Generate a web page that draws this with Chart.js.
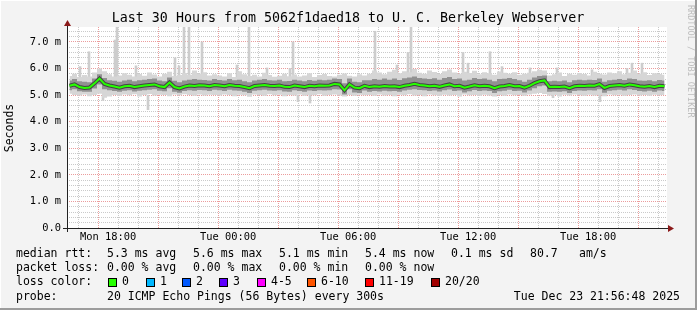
<!DOCTYPE html>
<html lang="en">
<head>
<meta charset="UTF-8">
<title>Last 30 Hours from 5062f1daed18 to U. C. Berkeley Webserver</title>
<style>
  html, body { margin: 0; padding: 0; background: #f3f3f3; }
  #wrap { width: 697px; height: 310px; }
</style>
</head>
<body>
<div id="wrap"><canvas id="grafico" width="697" height="310"></canvas></div>

<script src="https://cdn.jsdelivr.net/npm/chart.js"></script>
<script>
// one value every 15 minutes, first column starts Mon 15:56:48
const stepHours = 0.25;

const medianRtt = [
  5.35, 5.40, 5.30, 5.27, 5.28, 5.44, 5.62, 5.42, 5.36, 5.32, 5.28, 5.33, 5.35, 5.30, 5.33,
  5.36, 5.38, 5.40, 5.33, 5.30, 5.47, 5.30, 5.25, 5.32, 5.36, 5.34, 5.37, 5.36, 5.33, 5.38,
  5.36, 5.33, 5.38, 5.35, 5.34, 5.30, 5.26, 5.34, 5.36, 5.38, 5.35, 5.34, 5.36, 5.31, 5.30,
  5.36, 5.33, 5.30, 5.35, 5.33, 5.36, 5.35, 5.36, 5.42, 5.40, 5.18, 5.40, 5.28, 5.26, 5.35,
  5.30, 5.33, 5.31, 5.34, 5.32, 5.33, 5.30, 5.35, 5.38, 5.42, 5.38, 5.36, 5.33, 5.35, 5.31,
  5.36, 5.40, 5.33, 5.35, 5.28, 5.32, 5.37, 5.33, 5.35, 5.33, 5.26, 5.32, 5.34, 5.38, 5.33,
  5.34, 5.28, 5.35, 5.45, 5.52, 5.55, 5.30, 5.31, 5.30, 5.32, 5.26, 5.33, 5.35, 5.34, 5.36,
  5.35, 5.41, 5.27, 5.34, 5.36, 5.38, 5.35, 5.40, 5.37, 5.33, 5.31, 5.34, 5.30, 5.35, 5.33
];

// darker smoke (middle pings)
const midHigh = [
  5.55, 5.60, 5.52, 5.50, 5.48, 5.62, 5.78, 5.64, 5.56, 5.54, 5.50, 5.55, 5.58, 5.52, 5.56,
  5.58, 5.60, 5.62, 5.55, 5.52, 5.66, 5.54, 5.48, 5.55, 5.58, 5.60, 5.58, 5.57, 5.55, 5.60,
  5.57, 5.55, 5.60, 5.56, 5.58, 5.52, 5.48, 5.55, 5.58, 5.60, 5.56, 5.55, 5.58, 5.52, 5.53,
  5.58, 5.55, 5.52, 5.57, 5.54, 5.58, 5.56, 5.58, 5.62, 5.60, 5.44, 5.62, 5.50, 5.48, 5.56,
  5.56, 5.60, 5.58, 5.62, 5.58, 5.62, 5.57, 5.63, 5.66, 5.70, 5.64, 5.62, 5.60, 5.63, 5.58,
  5.64, 5.68, 5.60, 5.62, 5.55, 5.58, 5.64, 5.60, 5.62, 5.58, 5.52, 5.60, 5.61, 5.64, 5.60,
  5.56, 5.50, 5.58, 5.66, 5.72, 5.74, 5.52, 5.54, 5.52, 5.55, 5.48, 5.56, 5.58, 5.56, 5.58,
  5.57, 5.62, 5.50, 5.56, 5.58, 5.60, 5.57, 5.62, 5.60, 5.55, 5.54, 5.56, 5.52, 5.57, 5.55
];
const midLow = [
  5.18, 5.22, 5.14, 5.12, 5.12, 5.25, 5.40, 5.22, 5.18, 5.15, 5.12, 5.16, 5.18, 5.13, 5.16,
  5.18, 5.20, 5.22, 5.16, 5.14, 5.26, 5.12, 5.09, 5.15, 5.18, 5.16, 5.19, 5.18, 5.15, 5.20,
  5.18, 5.15, 5.20, 5.17, 5.16, 5.12, 5.08, 5.16, 5.18, 5.20, 5.17, 5.16, 5.18, 5.13, 5.12,
  5.18, 5.15, 5.12, 5.17, 5.15, 5.18, 5.17, 5.18, 5.22, 5.21, 5.02, 5.22, 5.10, 5.08, 5.17,
  5.12, 5.15, 5.13, 5.16, 5.14, 5.15, 5.12, 5.17, 5.20, 5.22, 5.19, 5.18, 5.15, 5.17, 5.13,
  5.18, 5.21, 5.15, 5.17, 5.10, 5.14, 5.19, 5.15, 5.17, 5.15, 5.08, 5.14, 5.16, 5.20, 5.15,
  5.16, 5.10, 5.17, 5.26, 5.33, 5.36, 5.12, 5.13, 5.12, 5.14, 5.08, 5.15, 5.17, 5.16, 5.18,
  5.17, 5.22, 5.09, 5.16, 5.18, 5.20, 5.17, 5.22, 5.19, 5.15, 5.13, 5.16, 5.12, 5.17, 5.15
];

// light smoke (outer pings)
const outerHigh = [
  5.72, 5.80, 5.68, 5.75, 5.70, 5.85, 6.00, 5.90, 5.78, 5.70, 5.74, 5.82, 5.76, 5.70, 5.79,
  5.73, 5.85, 5.77, 5.70, 5.80, 5.88, 5.72, 5.75, 5.83, 5.76, 5.92, 5.80, 5.86, 5.74, 5.78,
  5.74, 5.70, 5.82, 5.68, 5.90, 5.78, 5.72, 5.76, 5.70, 5.84, 5.75, 5.69, 5.73, 5.80, 5.71,
  5.77, 5.70, 5.74, 5.82, 5.68, 5.75, 5.79, 5.72, 5.70, 5.76, 5.81, 5.73, 5.70, 5.78, 5.74,
  5.80, 5.92, 5.85, 5.78, 5.88, 5.95, 5.82, 5.90, 5.86, 5.98, 5.84, 5.80, 5.92, 5.87, 5.79,
  5.90, 5.96, 5.85, 5.80, 5.88, 5.83, 5.91, 5.78, 5.86, 5.82, 5.76, 5.89, 5.84, 5.80, 5.86,
  5.76, 5.80, 5.84, 5.90, 5.95, 5.92, 5.74, 5.78, 5.85, 5.72, 5.80, 5.76, 5.83, 5.79, 5.74,
  5.88, 5.80, 5.77, 5.85, 5.82, 5.90, 5.78, 5.84, 5.92, 5.80, 5.86, 5.75, 5.82, 5.79, 5.76
];
const outerLow = [
  5.05, 5.00, 4.98, 5.02, 4.96, 5.00, 5.05, 4.90, 4.95, 5.00, 4.97, 5.02, 4.99, 5.03, 4.95,
  5.00, 5.04, 4.98, 5.01, 5.00, 4.96, 5.02, 4.99, 5.03, 5.00, 4.97, 5.02, 4.98, 5.01, 5.00,
  4.98, 5.02, 5.00, 4.96, 5.01, 4.99, 4.94, 5.02, 5.00, 4.97, 5.03, 4.99, 5.01, 4.96, 5.00,
  4.98, 5.02, 4.97, 5.00, 4.99, 5.03, 4.97, 5.00, 5.02, 4.98, 4.95, 5.00, 4.97, 5.01, 4.99,
  5.00, 4.97, 5.02, 4.98, 5.00, 4.96, 5.01, 4.99, 5.03, 4.98, 5.00, 4.96, 5.02, 4.99, 4.97,
  5.01, 4.98, 5.00, 4.95, 5.02, 4.99, 5.00, 4.97, 5.01, 4.98, 4.95, 5.00, 4.97, 5.02, 4.99,
  5.00, 4.97, 5.02, 5.05, 5.08, 5.04, 4.98, 5.00, 4.95, 5.01, 4.98, 5.02, 4.99, 4.97, 5.01,
  4.98, 5.00, 4.96, 5.02, 4.99, 5.01, 4.97, 5.00, 5.02, 4.98, 5.00, 4.97, 5.01, 4.99, 5.00
];

// single slow / fast pings: [hours since start, ms]
const spikes = [
  [0.65, 6.07], [1.10, 6.63], [2.40, 7.07], [2.50, 7.60], [3.45, 6.10], [5.40, 6.40],
  [5.60, 6.10], [5.85, 7.60], [6.10, 7.60], [6.75, 7.00], [8.50, 6.13], [9.10, 7.60],
  [10.00, 6.02], [11.15, 6.00], [11.30, 7.00], [15.40, 7.40], [16.50, 6.13], [17.05, 6.60],
  [17.20, 7.60], [19.80, 6.60], [20.05, 6.20], [21.15, 6.63], [21.75, 6.07], [23.15, 6.02],
  [24.50, 6.02], [26.25, 5.95], [28.00, 6.00], [28.25, 6.20], [28.75, 6.20]
];
const dips = [
  [1.80, 4.80], [4.05, 4.45], [11.55, 4.75], [12.15, 4.70], [24.30, 4.90], [26.65, 4.75]
];

const yTicks = [];
for (let i = 0; i <= 37; i++) yTicks.push(i / 5);

// hourly grid, first full hour is 16:00 on Monday
const firstHour = 16;
const firstHourOffset = 3.2 / 60;
const timeLabels = ['Mon 18:00', 'Tue 00:00', 'Tue 06:00', 'Tue 12:00', 'Tue 18:00'];
const timeLabelTicks = [2, 8, 14, 20, 26];

const rttStats = ['5.3 ms avg', '5.6 ms max', '5.1 ms min', '5.4 ms now', '0.1 ms sd'];
const lossStats = ['0.00 % avg', '0.00 % max', '0.00 % min', '0.00 % now'];
const lossBins = ['0', '1', '2', '3', '4-5', '6-10', '11-19', '20/20'];
const lossColors = ['#26ff00', '#00b8ff', '#0059ff', '#5e00ff', '#ff00ff', '#ff5500', '#ff0000', '#a10000'];

const mono = '"DejaVu Sans Mono", monospace';

const hourTicks = [];
for (let k = 0; k < 30; k++) hourTicks.push(firstHourOffset + k);

const pts = arr => arr.map((v, i) => ({ x: stepHours * (i + 0.5), y: v }));

const marco = {
  id: 'marco',
  beforeDraw(chart) {
    const { ctx, chartArea: a } = chart;
    ctx.save();
    ctx.fillStyle = '#f3f3f3';
    ctx.fillRect(0, 0, 697, 310);
    ctx.fillStyle = '#ffffff';
    ctx.fillRect(0, 0, 697, 1);
    ctx.fillRect(0, 0, 1, 310);
    ctx.fillStyle = '#9c9c9c';
    ctx.fillRect(695, 0, 2, 310);
    ctx.fillRect(0, 308, 697, 2);
    ctx.fillStyle = '#ffffff';
    ctx.fillRect(a.left, a.top, a.right - a.left, a.bottom - a.top);
    ctx.restore();
  },
  afterDraw(chart) {
    const { ctx, chartArea: a } = chart;
    ctx.save();
    // axes with arrows
    ctx.strokeStyle = '#222';
    ctx.lineWidth = 1;
    ctx.beginPath();
    ctx.moveTo(63, a.bottom + 0.5);
    ctx.lineTo(a.right + 2, a.bottom + 0.5);
    ctx.moveTo(a.left + 0.5, a.bottom + 4);
    ctx.lineTo(a.left + 0.5, a.top - 2);
    ctx.stroke();
    ctx.fillStyle = '#8b1a1a';
    ctx.beginPath();
    ctx.moveTo(a.right + 1, a.bottom - 3);
    ctx.lineTo(a.right + 7, a.bottom + 0.5);
    ctx.lineTo(a.right + 1, a.bottom + 4);
    ctx.fill();
    ctx.beginPath();
    ctx.moveTo(a.left - 3, a.top - 1);
    ctx.lineTo(a.left + 0.5, a.top - 7);
    ctx.lineTo(a.left + 4, a.top - 1);
    ctx.fill();

    // title
    ctx.fillStyle = '#000';
    ctx.textBaseline = 'middle';
    ctx.textAlign = 'center';
    ctx.font = '13.3px ' + mono;
    ctx.fillText('Last 30 Hours from 5062f1daed18 to U. C. Berkeley Webserver', 348, 19);

    // vertical axis title
    ctx.save();
    ctx.translate(10, 128);
    ctx.rotate(-Math.PI / 2);
    ctx.font = '11.5px ' + mono;
    ctx.fillText('Seconds', 0, 0);
    ctx.restore();

    // rrdtool watermark
    ctx.save();
    ctx.translate(690, 5);
    ctx.rotate(Math.PI / 2);
    ctx.textAlign = 'left';
    ctx.fillStyle = '#bdbdbd';
    ctx.font = '8.5px ' + mono;
    ctx.fillText('RRDTOOL / TOBI OETIKER', 0, 0);
    ctx.restore();

    // legend
    ctx.textAlign = 'left';
    ctx.font = '11.5px ' + mono;
    const cols = [107, 193, 279, 365, 451];
    ctx.fillText('median rtt:', 16, 254);
    rttStats.forEach((s, i) => ctx.fillText(s, cols[i], 254));
    ctx.fillText('80.7', 530, 254);
    ctx.fillText('am/s', 579, 254);
    ctx.fillText('packet loss:', 16, 268);
    lossStats.forEach((s, i) => ctx.fillText(s, cols[i], 268));
    ctx.fillText('loss color:', 16, 282);
    const boxX = [108, 146, 182, 219, 257, 307, 365, 431];
    lossBins.forEach((b, i) => {
      ctx.fillStyle = lossColors[i];
      ctx.fillRect(boxX[i], 278, 8, 8);
      ctx.strokeStyle = '#000';
      ctx.strokeRect(boxX[i] + 0.5, 278.5, 8, 8);
      ctx.fillStyle = '#000';
      ctx.fillText(b, boxX[i] + 14, 282);
    });
    ctx.fillText('probe:', 16, 297);
    ctx.fillText('20 ICMP Echo Pings (56 Bytes) every 300s', 107, 297);
    ctx.textAlign = 'right';
    ctx.fillText('Tue Dec 23 21:56:48 2025', 680, 297);
    ctx.restore();
  }
};

const lienzo = document.getElementById('grafico');

new Chart(lienzo, {
  type: 'line',
  data: {
    datasets: [
      { data: pts(outerLow), borderWidth: 0, fill: false, stepped: 'middle', order: 5 },
      { data: pts(outerHigh), borderWidth: 0, fill: '-1', backgroundColor: 'rgb(214,214,214)', stepped: 'middle', order: 5 },
      { data: pts(midLow), borderWidth: 0, fill: false, stepped: 'middle', order: 3 },
      { data: pts(midHigh), borderWidth: 0, fill: '-1', backgroundColor: 'rgb(145,145,145)', stepped: 'middle', order: 3 },
      {
        type: 'bar',
        data: spikes.map(([t, top]) => ({ x: t, y: [5.6, top] }))
          .concat(dips.map(([t, low]) => ({ x: t, y: [low, 5.0] }))),
        backgroundColor: 'rgb(205,205,205)',
        barThickness: 2,
        grouped: false,
        order: 6
      },
      { data: pts(medianRtt), borderColor: 'rgba(35,35,35,0.7)', borderWidth: 4, fill: false, order: 1 },
      { data: pts(medianRtt), borderColor: '#26ff00', borderWidth: 2, fill: false, order: 0 }
    ]
  },
  options: {
    responsive: false,
    animation: false,
    devicePixelRatio: 1,
    layout: { padding: { left: 0, right: 30, top: 27, bottom: 0 } },
    elements: { point: { radius: 0 }, line: { tension: 0 } },
    plugins: { legend: { display: false }, tooltip: { enabled: false } },
    scales: {
      x: {
        type: 'linear',
        min: 0,
        max: 30,
        offset: false,
        afterBuildTicks: s => { s.ticks = hourTicks.map(v => ({ value: v })); },
        afterFit: s => { s.height = 82; },
        grid: {
          drawTicks: false,
          lineWidth: 1,
          color: c => ((firstHour + c.index) % 3 === 0 ? 'rgba(222,90,90,0.6)' : 'rgba(150,150,150,0.5)')
        },
        border: { display: false, dash: [1, 1] },
        ticks: {
          autoSkip: false,
          maxRotation: 0,
          padding: 3,
          color: '#000',
          font: { family: mono, size: 10.4 },
          callback: (v, i) => {
            const j = timeLabelTicks.indexOf(i);
            return j >= 0 ? timeLabels[j] : '';
          }
        }
      },
      y: {
        min: 0,
        max: 7.56,
        afterBuildTicks: s => { s.ticks = yTicks.map(v => ({ value: v })); },
        afterFit: s => { s.width = 67; },
        grid: {
          drawTicks: false,
          lineWidth: 1,
          color: c => (Math.abs(c.tick.value - Math.round(c.tick.value)) < 1e-6 ? 'rgba(222,90,90,0.6)' : 'rgba(150,150,150,0.5)')
        },
        border: { display: false, dash: [1, 1] },
        ticks: {
          autoSkip: false,
          padding: 6,
          color: '#000',
          font: { family: mono, size: 10.4 },
          callback: v => {
            if (Math.abs(v - Math.round(v)) > 1e-6) return '';
            return v === 0 ? '0.0' : v.toFixed(1) + ' m';
          }
        }
      }
    }
  },
  plugins: [marco]
});
</script>
</body>
</html>
